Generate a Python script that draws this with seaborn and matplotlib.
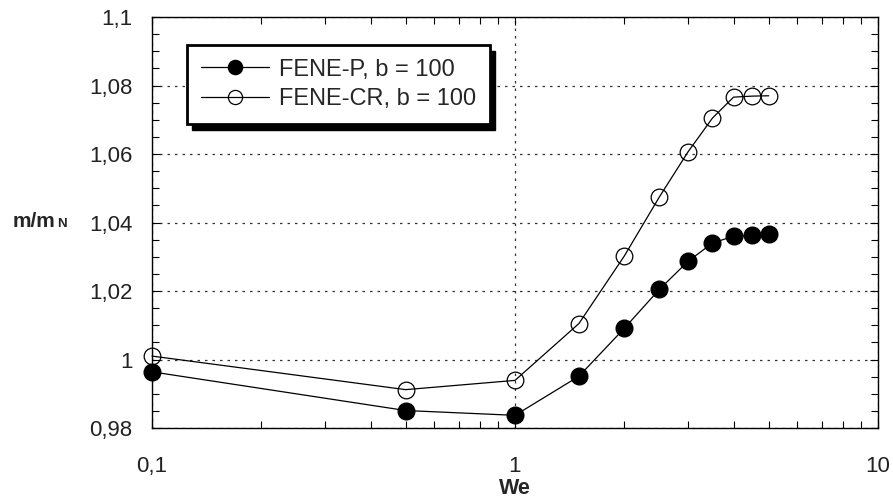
import matplotlib
matplotlib.use("Agg")
import matplotlib.pyplot as plt
import seaborn as sns
import numpy as np
import pandas as pd
from matplotlib.ticker import MultipleLocator, LogLocator, NullFormatter
from matplotlib.patches import Rectangle
from matplotlib.transforms import IdentityTransform

we = [0.1, 0.5, 1.0, 1.5, 2.0, 2.5, 3.0, 3.5, 4.0, 4.5, 5.0]
fene_p = [0.9964, 0.9851, 0.9837, 0.9951, 1.0091, 1.0205, 1.0287, 1.0340, 1.0360, 1.0363, 1.0366]
fene_cr = [1.0010, 0.9912, 0.9939, 1.0105, 1.0302, 1.0475, 1.0607, 1.0705, 1.0766, 1.0769, 1.0770]
series_labels = ["FENE-P, b = 100", "FENE-CR, b = 100"]
ytick_vals = [0.98, 1.0, 1.02, 1.04, 1.06, 1.08, 1.1]
ytick_labels = ["0,98", "1", "1,02", "1,04", "1,06", "1,08", "1,1"]
xtick_vals = [0.1, 1, 10]
xtick_labels = ["0,1", "1", "10"]

sns.set_theme(style="white")
plt.rcParams['font.family'] = ['Liberation Sans', 'DejaVu Sans']

W, H = 893, 497
fig = plt.figure(figsize=(W / 100, H / 100), dpi=100)
ax = fig.add_axes([152 / W, 1 - 428 / H, (878 - 152) / W, (428 - 17) / H])

df = pd.DataFrame({"We": we * 2,
                   "val": fene_p + fene_cr,
                   "model": [series_labels[0]] * len(we) + [series_labels[1]] * len(we)})

sns.lineplot(data=df[df.model == series_labels[0]], x="We", y="val", ax=ax,
             color="black", lw=0.9, marker="o", markersize=12,
             markerfacecolor="black", markeredgecolor="black", markeredgewidth=1,
             label=series_labels[0], clip_on=False, zorder=3)
sns.lineplot(data=df[df.model == series_labels[1]], x="We", y="val", ax=ax,
             color="black", lw=0.9, marker="o", markersize=12,
             markerfacecolor="none", markeredgecolor="black", markeredgewidth=0.9,
             label=series_labels[1], clip_on=False, zorder=3)

ax.set_xscale("log")
ax.set_xlim(0.1, 10)
ax.set_ylim(0.98, 1.1)

ax.set_xticks(xtick_vals)
ax.set_xticklabels(xtick_labels)
ax.xaxis.set_minor_locator(LogLocator(base=10, subs=np.arange(2, 10)))
ax.xaxis.set_minor_formatter(NullFormatter())
ax.set_yticks(ytick_vals)
ax.set_yticklabels(ytick_labels)
ax.yaxis.set_minor_locator(MultipleLocator(0.005))

ax.tick_params(axis="both", which="both", direction="in", top=True, right=True,
               bottom=True, left=True, color="black", width=0.8)
ax.tick_params(axis="both", which="major", length=6, labelsize=16, labelcolor="#222222")
ax.tick_params(axis="both", which="minor", length=5)
ax.tick_params(axis="y", which="major", pad=14)
ax.tick_params(axis="x", which="major", pad=20)

ax.grid(True, which="major", axis="both", linestyle=(0, (2, 4)), color="#333333", lw=0.9)
for s in ax.spines.values():
    s.set_color("black")
    s.set_linewidth(1.0)

ax.set_xlabel("")
ax.set_ylabel("")

fig.text(13 / W, 1 - 227 / H, "m/m", fontsize=15, fontweight="bold", ha="left", va="baseline")
fig.text(57 / W, 1 - 227 / H, "N", fontsize=9.5, fontweight="bold", ha="left", va="baseline")
fig.text(515 / W, 1 - 488 / H, "We", fontsize=15.5, fontweight="bold", ha="center", va="center")

leg = ax.legend(loc="upper left", bbox_to_anchor=((187 - 152) / 726, 1 - (45 - 17) / 411),
                borderaxespad=0, fontsize=17, frameon=True, fancybox=False,
                handlelength=2.9, handletextpad=0.42, borderpad=0.58, labelspacing=0.33,
                markerscale=0.85)
leg.get_frame().set_edgecolor("black")
leg.get_frame().set_linewidth(2.0)
leg.get_frame().set_facecolor("white")
leg.get_frame().set_alpha(1.0)
leg.set_zorder(10)

fig.canvas.draw()
bb = leg.get_frame().get_window_extent(fig.canvas.get_renderer())
shadow = Rectangle((bb.x0 + 5, bb.y0 - 6), bb.width, bb.height, transform=IdentityTransform(),
                   facecolor="black", edgecolor="black", zorder=9, clip_on=False)
ax.add_patch(shadow)

fig.savefig("out.png", dpi=100)
